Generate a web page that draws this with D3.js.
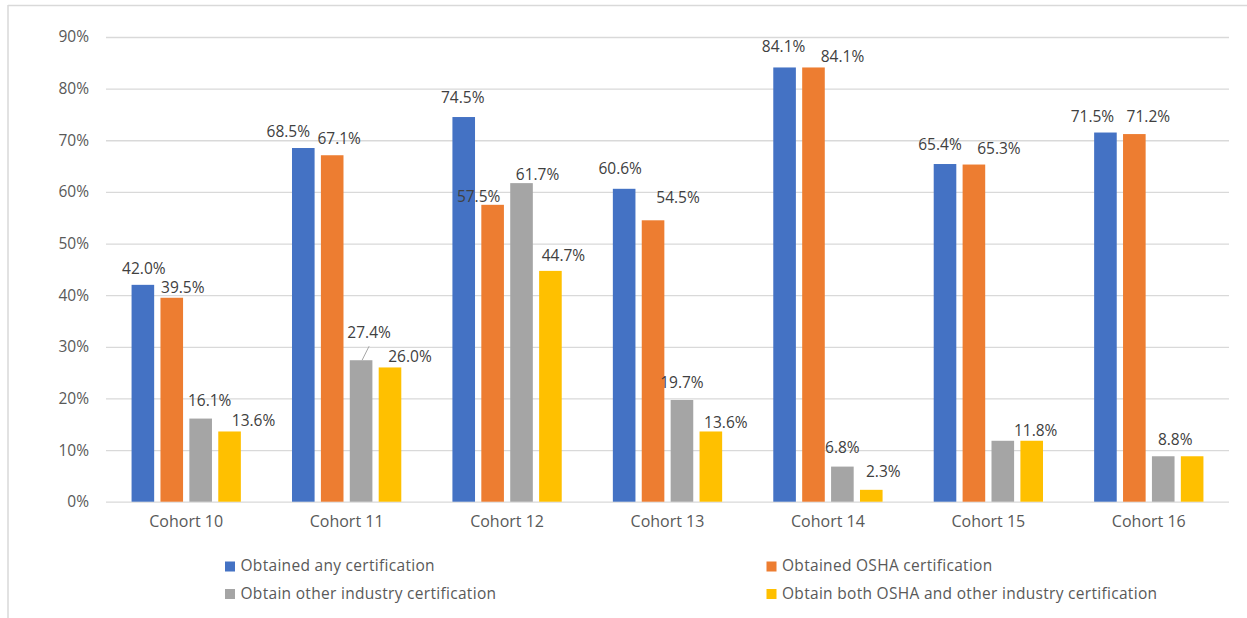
<!DOCTYPE html>
<html>
<head>
<meta charset="utf-8">
<script src="https://cdn.jsdelivr.net/npm/d3@7"></script>
<style>
  body { margin: 0; background: #fff; }
  text { font-family: "Open Sans", "Noto Sans", sans-serif; }
</style>
</head>
<body>
<script>
// data
var cohorts = ["Cohort 10", "Cohort 11", "Cohort 12", "Cohort 13", "Cohort 14", "Cohort 15", "Cohort 16"];
var seriesNames = ["Obtained any certification", "Obtained OSHA certification",
                   "Obtain other industry certification", "Obtain both OSHA and other industry certification"];
var anyCert   = [42.0, 68.5, 74.5, 60.6, 84.1, 65.4, 71.5];
var oshaCert  = [39.5, 67.1, 57.5, 54.5, 84.1, 65.3, 71.2];
var otherCert = [16.1, 27.4, 61.7, 19.7, 6.8, 11.8, 8.8];
var bothCert  = [13.6, 26.0, 44.7, 13.6, 2.3, 11.8, 8.8];
var yTicks = [0, 10, 20, 30, 40, 50, 60, 70, 80, 90];

var seriesValues = [anyCert, oshaCert, otherCert, bothCert];
var colors = ["#4472C4", "#ED7D31", "#A5A5A5", "#FFC000"];

// label nudges [dx, dy] from default spot, null = label not shown
var labelNudge = [
  [[1, 0], [-15, 0], [-1, -3], [-4, -4], [-1, -4], [-5, -3], [-13, 0]],
  [[11, 6], [7, 0], [-14, 8], [25, -6], [29, 6], [25, 0], [14, -1]],
  [[9, -2], [8, -11], [16, 8], [0, -1], [0, -3], null, [12, 0]],
  [[24, 6], [20, 6], [13, 1], [15, 8], [12, -2], [4, 6], null]
];

var W = 1247, H = 618;
var plot = {left: 106, right: 1229, top: 37, bottom: 501.7};

var svg = d3.select("body").append("svg")
    .attr("width", W)
    .attr("height", H);

// frame
svg.append("line").attr("x1", 8).attr("x2", W).attr("y1", 5.5).attr("y2", 5.5)
   .style("stroke", "#d9d9d9").style("stroke-width", 1.5);
svg.append("line").attr("x1", 8).attr("x2", 8).attr("y1", 5).attr("y2", H)
   .style("stroke", "#d9d9d9").style("stroke-width", 1.5);

var yScale = d3.scaleLinear().domain([0, 90]).range([plot.bottom, plot.top]);
var x0 = d3.scaleBand().domain(cohorts).range([plot.left, plot.right]);
var x1 = d3.scaleBand().domain(d3.range(4)).range([-54.65, 54.65]).paddingInner(0.218);

// gridlines + y labels
var yAxis = d3.axisLeft(yScale)
    .tickValues(yTicks)
    .tickSize(-(plot.right - plot.left))
    .tickPadding(17)
    .tickFormat(function(d) { return d + "%"; });

var gy = svg.append("g")
    .attr("transform", "translate(" + plot.left + ",0)")
    .call(yAxis);
gy.select(".domain").remove();
gy.selectAll(".tick line").style("stroke", "#d9d9d9").style("stroke-width", 1.3);
gy.selectAll(".tick text")
  .style("font-size", "15.5px")
  .style("fill", "#595959")
  .style("font-family", "'Open Sans', sans-serif");

// x labels
var xAxis = d3.axisBottom(x0).tickSize(0).tickPadding(14);
var gx = svg.append("g")
    .attr("transform", "translate(0," + plot.bottom + ")")
    .call(xAxis);
gx.select(".domain").remove();
gx.selectAll(".tick text")
  .style("font-size", "16px")
  .style("fill", "#595959")
  .style("font-family", "'Open Sans', sans-serif");

// bars
var groups = svg.selectAll("g.cohort")
    .data(cohorts)
    .enter().append("g")
    .attr("class", "cohort")
    .attr("transform", function(d) { return "translate(" + (x0(d) + x0.bandwidth() / 2) + ",0)"; });

groups.selectAll("rect")
    .data(function(d, i) { return seriesValues.map(function(vals, s) { return {s: s, v: vals[i], c: i}; }); })
    .enter().append("rect")
    .attr("x", function(d) { return x1(d.s); })
    .attr("width", x1.bandwidth())
    .attr("y", function(d) { return yScale(d.v); })
    .attr("height", function(d) { return plot.bottom - yScale(d.v); })
    .style("fill", function(d) { return colors[d.s]; });

// data labels (drawn after all bars so they sit on top)
var labelData = [];
cohorts.forEach(function(c, i) {
  seriesValues.forEach(function(vals, s) {
    if (labelNudge[s][i] !== null) labelData.push({s: s, v: vals[i], c: i, cohort: c});
  });
});

function bx(d) { return x0(d.cohort) + x0.bandwidth() / 2 + x1(d.s) + x1.bandwidth() / 2; }
function lx(d) { return bx(d) + labelNudge[d.s][d.c][0]; }
function ly(d) { return yScale(d.v) - 11 + labelNudge[d.s][d.c][1]; }

var labels = svg.selectAll("g.lbl")
    .data(labelData)
    .enter().append("g").attr("class", "lbl");

labels.append("text")
    .attr("x", lx)
    .attr("y", ly)
    .attr("text-anchor", "middle")
    .style("font-size", "15.5px")
    .style("fill", "#404040")
    .text(function(d) { return d.v.toFixed(1) + "%"; });

// leader line for Cohort 11 other-industry label
labels.filter(function(d) { return d.s === 2 && d.c === 1; })
    .append("line")
    .attr("x1", function(d) { return bx(d) + 1; })
    .attr("y1", function(d) { return yScale(d.v); })
    .attr("x2", lx)
    .attr("y2", function(d) { return ly(d) + 8; })
    .style("stroke", "#a6a6a6")
    .style("stroke-width", 1);

// legend
var legendPos = [[225, 561.5], [766.5, 561.5], [225, 589], [766.5, 589]];
var legend = svg.selectAll("g.legend")
    .data(seriesNames)
    .enter().append("g")
    .attr("class", "legend")
    .attr("transform", function(d, i) { return "translate(" + legendPos[i][0] + "," + legendPos[i][1] + ")"; });

legend.append("rect")
    .attr("width", 10).attr("height", 10)
    .style("fill", function(d, i) { return colors[i]; });

legend.append("text")
    .attr("x", 15.5)
    .attr("y", 9.5)
    .style("font-size", "15.5px")
    .style("fill", "#595959")
    .style("letter-spacing", "0.3px")
    .text(function(d) { return d; });
</script>
</body>
</html>
